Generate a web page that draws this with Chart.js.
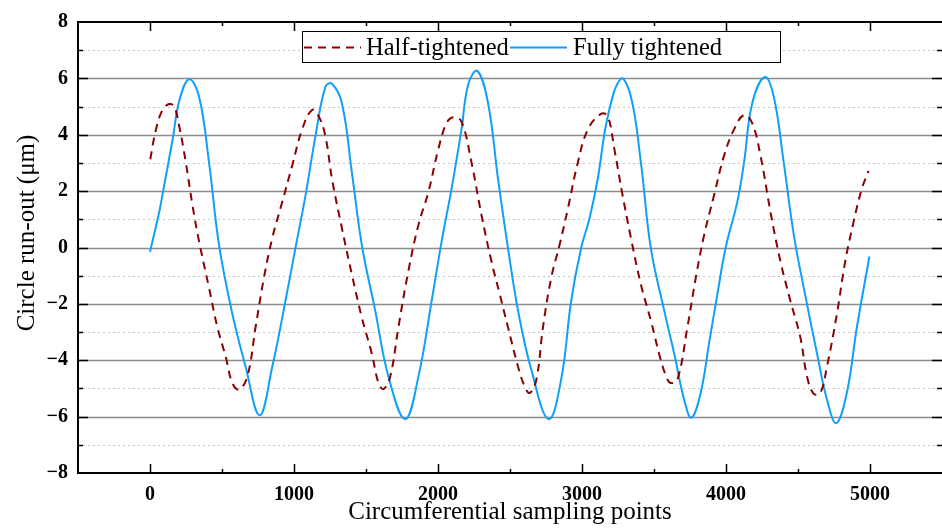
<!DOCTYPE html>
<html><head><meta charset="utf-8">
<script src="https://cdn.jsdelivr.net/npm/chart.js@4/dist/chart.umd.min.js"></script>
<style>html,body{margin:0;padding:0;background:#fff}#wrap{width:942px;height:530px}</style>
</head><body><div id="wrap"><canvas id="c" width="942" height="530"></canvas></div>
<script>
const seriesNames = ['Half-tightened', 'Fully tightened'];
const halfX = [2, 41, 87, 134, 168, 203, 249, 295, 341, 410, 468, 526, 572, 618, 676, 733, 791, 849, 918, 987, 1056, 1125, 1172, 1218, 1264, 1333, 1402, 1471, 1540, 1587, 1621, 1668, 1725, 1794, 1864, 1933, 2002, 2059, 2106, 2163, 2233, 2302, 2371, 2429, 2486, 2556, 2602, 2637, 2683, 2729, 2786, 2844, 2902, 2971, 3040, 3132, 3179, 3225, 3282, 3340, 3409, 3478, 3547, 3594, 3617, 3663, 3732, 3790, 3848, 3917, 3986, 4055, 4125, 4182, 4240, 4309, 4378, 4447, 4516, 4563, 4609, 4655, 4701, 4770, 4828, 4886, 4943, 4990];
const halfY = [3.13, 4.18, 4.88, 5.09, 5.0, 4.3, 3.01, 1.5, 0.21, -1.43, -2.83, -3.88, -4.81, -5.04, -4.58, -2.83, -1.08, 0.33, 1.61, 2.9, 4.18, 4.88, 4.65, 3.95, 2.43, 0.68, -0.96, -2.48, -3.76, -4.81, -5.02, -4.58, -2.83, -0.84, 0.8, 1.96, 3.48, 4.41, 4.62, 4.47, 3.01, 1.15, -0.49, -1.66, -2.83, -4.23, -4.93, -5.16, -4.69, -2.83, -1.08, 0.09, 1.38, 3.01, 4.18, 4.74, 4.65, 3.48, 1.85, 0.33, -1.31, -2.59, -3.99, -4.69, -4.81, -4.69, -2.83, -1.08, 0.44, 1.85, 3.25, 4.18, 4.7, 4.41, 3.25, 1.26, -0.49, -1.89, -3.18, -4.58, -5.19, -5.16, -4.23, -2.36, -0.49, 0.91, 2.08, 2.72];
const fullX = [0, 64, 94, 157, 203, 272, 341, 410, 479, 572, 664, 761, 849, 941, 1010, 1080, 1149, 1218, 1264, 1333, 1402, 1471, 1564, 1656, 1772, 1864, 1956, 2025, 2094, 2163, 2211, 2274, 2348, 2417, 2486, 2556, 2648, 2768, 2855, 2925, 2994, 3052, 3109, 3179, 3271, 3340, 3409, 3478, 3571, 3640, 3709, 3760, 3824, 3882, 3940, 3997, 4078, 4125, 4182, 4270, 4332, 4401, 4471, 4540, 4632, 4701, 4766, 4839, 4909, 4996];
const fullY = [-0.16, 1.26, 2.08, 3.83, 5.2, 5.97, 5.35, 3.01, 0.1, -2.36, -4.23, -5.95, -4.23, -1.89, -0.02, 1.85, 3.95, 5.7, 5.81, 5.11, 2.66, 0.09, -2.24, -4.58, -6.09, -4.58, -1.89, 0.21, 2.08, 4.18, 5.81, 6.26, 5.11, 2.43, -0.02, -2.24, -4.34, -6.09, -4.69, -1.89, -0.02, 1.03, 2.43, 4.65, 5.99, 5.35, 3.01, -0.02, -2.24, -3.76, -5.39, -6.04, -5.16, -3.41, -1.66, -0.02, 1.61, 3.01, 5.11, 6.05, 5.35, 3.01, 0.44, -1.43, -3.76, -5.39, -6.23, -5.16, -2.83, -0.32];
const xTickValues = [0, 1000, 2000, 3000, 4000, 5000];
const yTickValues = [-8, -6, -4, -2, 0, 2, 4, 6, 8];
const axisTitles = ['Circumferential sampling points', 'Circle run-out (μm)'];

const zip = (xs, ys) => xs.map((x, i) => ({x: x, y: ys[i]}));
const SERIF = "'Liberation Serif', 'Times New Roman', serif";

const framePlugin = {
  id: 'frame',
  beforeDatasetsDraw(chart) {
    const {ctx, chartArea: ca, scales} = chart;
    const ys = scales.y;
    ctx.save();
    for (let v = -7; v <= 7; v++) {
      const py = Math.round(ys.getPixelForValue(v)) + 0.5;
      ctx.beginPath();
      if (v % 2 === 0) { ctx.strokeStyle = '#8a8a8a'; ctx.lineWidth = 1.3; ctx.setLineDash([]); }
      else { ctx.strokeStyle = '#c4c4c4'; ctx.lineWidth = 1; ctx.setLineDash([2, 3]); }
      ctx.moveTo(ca.left, py); ctx.lineTo(ca.right, py); ctx.stroke();
    }
    ctx.restore();
  },
  afterDatasetsDraw(chart) {
    const {ctx, chartArea: ca, scales} = chart;
    const xs = scales.x, ys = scales.y;
    ctx.save();
    ctx.strokeStyle = '#000';
    ctx.setLineDash([]);
    ctx.lineWidth = 2;
    ctx.beginPath();
    ctx.moveTo(ca.left, ca.top); ctx.lineTo(ca.left, ca.bottom);
    ctx.moveTo(ca.left - 1, ca.bottom); ctx.lineTo(ca.right, ca.bottom);
    ctx.moveTo(ca.left - 1, ca.top); ctx.lineTo(ca.right, ca.top);
    ctx.stroke();
    ctx.lineWidth = 1.5;
    ctx.beginPath();
    for (let v = 0; v <= 5000; v += 500) {
      const px = Math.round(xs.getPixelForValue(v)) + 0.5;
      const len = v % 1000 === 0 ? 9 : 4;
      ctx.moveTo(px, ca.bottom); ctx.lineTo(px, ca.bottom - len);
      ctx.moveTo(px, ca.top); ctx.lineTo(px, ca.top + len);
    }
    for (let v = -7; v <= 7; v++) {
      const py = Math.round(ys.getPixelForValue(v)) + 0.5;
      const len = v % 2 === 0 ? 10 : 5;
      ctx.moveTo(ca.left, py); ctx.lineTo(ca.left + len, py);
      ctx.moveTo(ca.right, py); ctx.lineTo(ca.right - len, py);
    }
    ctx.stroke();
    ctx.restore();
  },
  afterDraw(chart) {
    const {ctx, chartArea: ca} = chart;
    const ds = chart.data.datasets;
    ctx.save();
    // y axis title
    ctx.font = "25px " + SERIF;
    ctx.fillStyle = '#000';
    ctx.translate(27, 233);
    ctx.rotate(-Math.PI / 2);
    ctx.textAlign = 'center';
    ctx.textBaseline = 'middle';
    ctx.fillText(axisTitles[1], 0, 0);
    ctx.restore();

    const box = {x: 302.5, y: 31.5, w: 478, h: 31};
    ctx.save();
    ctx.fillStyle = '#fff';
    ctx.fillRect(box.x, box.y, box.w, box.h);
    ctx.strokeStyle = '#000'; ctx.lineWidth = 1; ctx.setLineDash([]);
    ctx.strokeRect(box.x, box.y, box.w, box.h);
    ctx.font = "24.5px " + SERIF;
    ctx.fillStyle = '#000';
    ctx.textBaseline = 'alphabetic';
    const items = [{x0: 304, x1: 361, tx: 366}, {x0: 510, x1: 567, tx: 573}];
    items.forEach((it, i) => {
      const d = ds[i];
      ctx.beginPath();
      ctx.strokeStyle = d.borderColor; ctx.lineWidth = d.borderWidth;
      ctx.setLineDash(d.borderDash || []);
      ctx.moveTo(it.x0, 47.5); ctx.lineTo(it.x1, 47.5); ctx.stroke();
      ctx.setLineDash([]);
      ctx.fillText(d.label, it.tx, 55);
    });
    ctx.restore();
  }
};

new Chart(document.getElementById('c'), {
  type: 'line',
  data: {
    datasets: [
      {label: seriesNames[0], data: zip(halfX, halfY), borderColor: '#8b0000', borderWidth: 2,
       borderDash: [8, 6], pointRadius: 0, fill: false, tension: 0.4},
      {label: seriesNames[1], data: zip(fullX, fullY), borderColor: '#10a0f8', borderWidth: 2,
       pointRadius: 0, fill: false, tension: 0.4}
    ]
  },
  options: {
    responsive: false, animation: false, devicePixelRatio: 1,
    layout: {padding: {top: 17, right: -3, left: 0, bottom: 0}},
    plugins: {legend: {display: false}, tooltip: {enabled: false}},
    scales: {
      x: {
        type: 'linear', min: -500, max: 5500,
        afterBuildTicks: s => { s.ticks = xTickValues.map(v => ({value: v})); },
        afterFit: s => { s.height = 57; },
        grid: {display: false, drawTicks: false}, border: {display: false},
        ticks: {color: '#000', font: {family: SERIF, size: 20, weight: 'bold'}, padding: 10, maxRotation: 0, autoSkip: false,
                callback: v => String(v)},
        title: {display: true, text: axisTitles[0], color: '#000', font: {family: SERIF, size: 25}, padding: {top: 0, bottom: 3}}
      },
      y: {
        min: -8, max: 8,
        afterBuildTicks: s => { s.ticks = yTickValues.map(v => ({value: v})); },
        afterFit: s => { s.width = 78; },
        grid: {display: false, drawTicks: false}, border: {display: false},
        ticks: {color: '#000', font: {family: SERIF, size: 20, weight: 'bold'}, padding: 10,
                callback: v => v < 0 ? '\u2212' + Math.abs(v) : String(v)},
        title: {display: false}
      }
    }
  },
  plugins: [framePlugin]
});
</script>
</body></html>
